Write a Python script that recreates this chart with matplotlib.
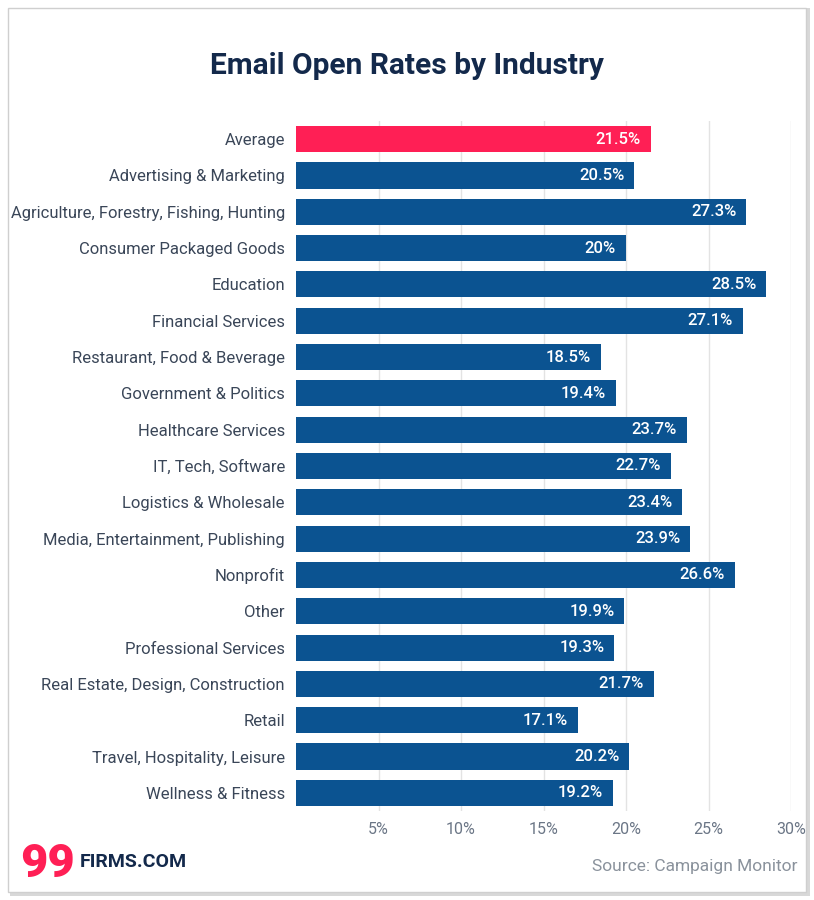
import matplotlib
matplotlib.use("Agg")
import matplotlib.pyplot as plt
from matplotlib.patches import Rectangle

categories = ["Average", "Advertising & Marketing", "Agriculture, Forestry, Fishing, Hunting",
              "Consumer Packaged Goods", "Education", "Financial Services",
              "Restaurant, Food & Beverage", "Government & Politics", "Healthcare Services",
              "IT, Tech, Software", "Logistics & Wholesale", "Media, Entertainment, Publishing",
              "Nonprofit", "Other", "Professional Services", "Real Estate, Design, Construction",
              "Retail", "Travel, Hospitality, Leisure", "Wellness & Fitness"]
values = [21.5, 20.5, 27.3, 20, 28.5, 27.1, 18.5, 19.4, 23.7, 22.7, 23.4, 23.9,
          26.6, 19.9, 19.3, 21.7, 17.1, 20.2, 19.2]
value_labels = ["21.5%", "20.5%", "27.3%", "20%", "28.5%", "27.1%", "18.5%", "19.4%", "23.7%",
                "22.7%", "23.4%", "23.9%", "26.6%", "19.9%", "19.3%", "21.7%", "17.1%", "20.2%", "19.2%"]
xticks = [5, 10, 15, 20, 25, 30]
xtick_labels = ["5%", "10%", "15%", "20%", "25%", "30%"]

RED = "#FF1F55"
BLUE = "#0B5391"
NAVY = "#13294B"
LABEL = "#3A4658"
GRID = "#E3E3E3"

plt.rcParams['font.family'] = ['Roboto', 'DejaVu Sans']

fig = plt.figure(figsize=(8.14, 9.0), dpi=100)
fig.patch.set_facecolor("white")

W, H = 814, 900
def fx(px): return px / W
def fy(py): return 1 - py / H
shadow = Rectangle((fx(10), fy(896)), fx(800), 888 / H, transform=fig.transFigure,
                   facecolor="#D8D8D8", edgecolor="none", zorder=0)
fig.patches.append(shadow)
card = Rectangle((fx(8), fy(892)), fx(798), 884 / H, transform=fig.transFigure,
                 facecolor="white", edgecolor="#CFCFCF", linewidth=1.0, zorder=1)
fig.patches.append(card)

ax = fig.add_axes([fx(296), fy(811), fx(791) - fx(296), (811 - 121) / H])
ax.set_facecolor("none")
ax.set_zorder(2)

n = len(categories)
ypos = list(range(n))
colors = [RED] + [BLUE] * (n - 1)
ax.barh(ypos, values, height=0.72, color=colors, zorder=3)
for y, v, lab in zip(ypos, values, value_labels):
    ax.text(v - 0.6, y, lab, ha="right", va="center", color="white",
            fontsize=12, fontweight="medium", zorder=4)

ax.set_xlim(0, 30)
ax.set_ylim(n - 0.5, -0.5)
ax.set_yticks(ypos)
ax.set_yticklabels(categories, fontsize=12, color=LABEL)
ax.set_xticks(xticks)
ax.set_xticklabels(xtick_labels, fontsize=11.5, color="#6B7686")
ax.tick_params(axis="both", length=0, pad=8)
ax.tick_params(axis="y", pad=8)
ax.grid(axis="x", color=GRID, linewidth=1.0, zorder=0)
for s in ax.spines.values():
    s.set_visible(False)

fig.text(0.5, fy(66), "Email Open Rates by Industry", ha="center", va="center",
         fontsize=21.5, fontweight="bold", color=NAVY)

fig.text(fx(20), fy(864), "99", ha="left", va="center", fontsize=34,
         fontweight="black", color=RED)
fig.text(fx(80), fy(862), "FIRMS.COM", ha="left", va="center", fontsize=14,
         fontweight="bold", color=NAVY)
fig.text(fx(797), fy(866), "Source: Campaign Monitor", ha="right", va="center",
         fontsize=12.5, color="#8A929C")

fig.savefig("out.png", dpi=100, facecolor="white")
